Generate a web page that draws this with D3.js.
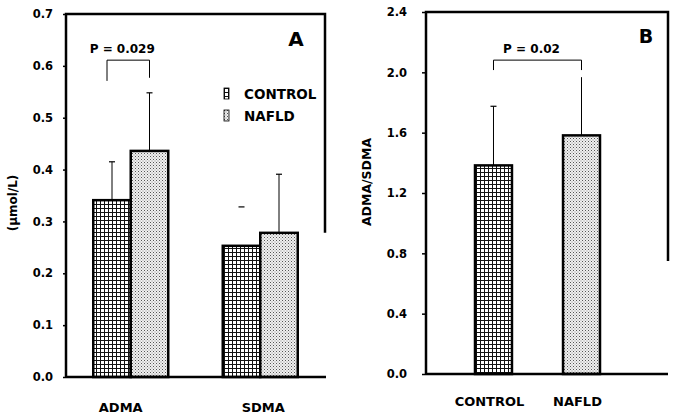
<!DOCTYPE html>
<html>
<head>
<meta charset="utf-8">
<script src="https://cdn.jsdelivr.net/npm/d3@7"></script>
<style>
  body { margin: 0; background: #fff; }
  text { font-family: "DejaVu Sans", sans-serif; font-weight: bold; fill: #000; }
</style>
</head>
<body>
<script>
'use strict';

// panel A: ADMA / SDMA concentrations (umol/L)
var groupsA = ['ADMA', 'SDMA'];
var seriesNames = ['CONTROL', 'NAFLD'];
var controlA = [0.341, 0.253];
var controlSdA = [0.074, 0.075];
var nafldA = [0.436, 0.278];
var nafldSdA = [0.112, 0.113];
var ticksA = [0, 0.1, 0.2, 0.3, 0.4, 0.5, 0.6, 0.7];

// panel B: ADMA/SDMA ratio
var groupsB = ['CONTROL', 'NAFLD'];
var ratioB = [1.383, 1.582];
var ratioSdB = [0.392, 0.386];
var ticksB = [0, 0.4, 0.8, 1.2, 1.6, 2.0, 2.4];

var width = 675, height = 418;

var svg = d3.select('body').append('svg')
    .attr('width', width)
    .attr('height', height);

// fill patterns
var defs = svg.append('defs');
var grid = defs.append('pattern')
    .attr('id', 'grid')
    .attr('patternUnits', 'userSpaceOnUse')
    .attr('width', 4).attr('height', 4);
grid.append('rect').attr('width', 4).attr('height', 4).attr('fill', '#fff');
grid.append('rect').attr('x', 0).attr('y', 0).attr('width', 1).attr('height', 4).attr('fill', '#111');
grid.append('rect').attr('x', 0).attr('y', 0).attr('width', 4).attr('height', 1).attr('fill', '#111');

var dots = defs.append('pattern')
    .attr('id', 'dots')
    .attr('patternUnits', 'userSpaceOnUse')
    .attr('width', 3).attr('height', 3);
dots.append('rect').attr('width', 3).attr('height', 3).attr('fill', '#f0f0f0');
dots.append('rect').attr('x', 0).attr('y', 0).attr('width', 1).attr('height', 1).attr('fill', '#555');
dots.append('rect').attr('x', 1.5).attr('y', 1.5).attr('width', 1).attr('height', 1).attr('fill', '#888');

var fills = { CONTROL: 'url(#grid)', NAFLD: 'url(#dots)' };

function errorBar(g, cx, yTop, yBase, stem, cap) {
    if (stem) {
        g.append('line')
            .attr('x1', cx).attr('x2', cx)
            .attr('y1', yTop).attr('y2', yBase)
            .attr('stroke', '#000').attr('stroke-width', 1);
    }
    if (cap) {
        g.append('line')
            .attr('x1', cx - 3).attr('x2', cx + 3)
            .attr('y1', yTop).attr('y2', yTop)
            .attr('stroke', '#000').attr('stroke-width', 1.2);
    }
}

function bracket(g, x1, x2, yBar, yLeg1, yLeg2, label) {
    g.append('path')
        .attr('d', 'M' + x1 + ',' + yLeg1 + 'V' + yBar + 'H' + x2 + 'V' + yLeg2)
        .attr('fill', 'none')
        .attr('stroke', '#000')
        .attr('stroke-width', 1);
    g.append('text')
        .attr('x', (x1 + x2) / 2 - 6)
        .attr('y', yBar - 7)
        .attr('text-anchor', 'middle')
        .style('font-size', '12px')
        .text(label);
}

// ---------------- panel A ----------------
var yA = d3.scaleLinear().domain([0, 0.7]).range([377, 14]);
var x0A = d3.scaleBand().domain(groupsA).range([66, 325]);
var x1A = d3.scaleBand().domain(seriesNames).range([0, 75]);

var gA = svg.append('g');

gA.append('g')
    .attr('transform', 'translate(66,0)')
    .call(d3.axisLeft(yA).tickValues(ticksA).tickFormat(d3.format('.1f')).tickSize(3).tickPadding(10))
    .call(function(g) { g.select('.domain').remove(); })
    .call(function(g) {
        g.selectAll('.tick line').attr('stroke', '#000').attr('stroke-width', 1.5);
        g.selectAll('.tick text').style('font-size', '11.5px').style('font-family', '"DejaVu Sans", sans-serif').style('font-weight', 'bold');
    });

var dataA = [];
groupsA.forEach(function(grp, i) {
    dataA.push({ group: grp, series: 'CONTROL', value: controlA[i], sd: controlSdA[i], stem: i === 0 });
    dataA.push({ group: grp, series: 'NAFLD', value: nafldA[i], sd: nafldSdA[i], stem: true });
});

gA.selectAll('rect.bar')
    .data(dataA)
    .enter()
    .append('rect')
    .attr('class', 'bar')
    .attr('x', function(d) { return x0A(d.group) + x0A.bandwidth() / 2 - 37.5 + x1A(d.series); })
    .attr('y', function(d) { return yA(d.value); })
    .attr('width', x1A.bandwidth())
    .attr('height', function(d) { return yA(0) - yA(d.value); })
    .attr('fill', function(d) { return fills[d.series]; })
    .attr('stroke', '#000')
    .attr('stroke-width', 2.5);

dataA.forEach(function(d) {
    var cx = x0A(d.group) + x0A.bandwidth() / 2 - 37.5 + x1A(d.series) + x1A.bandwidth() / 2;
    errorBar(gA, cx, yA(d.value + d.sd), yA(d.value), d.stem, true);
});

// frame (right side is broken off in the original scan)
gA.append('path')
    .attr('d', 'M66,' + yA(0) + 'V' + yA(0.7) + 'H325V' + yA(0.278))
    .attr('fill', 'none').attr('stroke', '#000').attr('stroke-width', 2.5);
gA.append('line')
    .attr('x1', 66).attr('x2', 326).attr('y1', yA(0)).attr('y2', yA(0))
    .attr('stroke', '#000').attr('stroke-width', 2.5);

var cAd = x0A('ADMA') + x0A.bandwidth() / 2 - 37.5;
bracket(gA, cAd + x1A('CONTROL') + x1A.bandwidth() / 2 - 5, cAd + x1A('NAFLD') + x1A.bandwidth() / 2,
    yA(0.611), yA(0.571), yA(0.577), 'P = 0.029');

gA.selectAll('text.xlab')
    .data(groupsA)
    .enter()
    .append('text')
    .attr('class', 'xlab')
    .attr('x', function(d, i) { return x0A(d) + x0A.bandwidth() / 2 + (i === 0 ? -10 : 3); })
    .attr('y', 412)
    .attr('text-anchor', 'middle')
    .style('font-size', '13px')
    .text(function(d) { return d; });

gA.append('text')
    .attr('transform', 'translate(17,203) rotate(-90)')
    .attr('text-anchor', 'middle')
    .style('font-size', '12px')
    .text('(\u03bcmol/L)');

gA.append('text')
    .attr('x', 296).attr('y', 46)
    .attr('text-anchor', 'middle')
    .style('font-size', '20px')
    .text('A');

// legend
var legend = gA.selectAll('g.legend')
    .data(seriesNames)
    .enter()
    .append('g')
    .attr('class', 'legend')
    .attr('transform', function(d, i) { return 'translate(224,' + (88 + i * 22) + ')'; });
legend.append('rect')
    .attr('width', 5).attr('height', 11)
    .attr('fill', function(d) { return fills[d]; })
    .attr('stroke', '#000').attr('stroke-width', 0.8);
legend.append('text')
    .attr('x', 20).attr('y', 11)
    .style('font-size', '13.5px')
    .text(function(d) { return d; });

// ---------------- panel B ----------------
var yB = d3.scaleLinear().domain([0, 2.4]).range([374, 12]);
var xB = d3.scaleBand().domain(groupsB).range([475, 600]).paddingInner(0.58).paddingOuter(0);

var gB = svg.append('g');

gB.append('g')
    .attr('transform', 'translate(426,0)')
    .call(d3.axisLeft(yB).tickValues(ticksB).tickFormat(d3.format('.1f')).tickSize(4).tickPadding(15))
    .call(function(g) { g.select('.domain').remove(); })
    .call(function(g) {
        g.selectAll('.tick line').attr('stroke', '#000').attr('stroke-width', 1.5);
        g.selectAll('.tick text').style('font-size', '11.5px').style('font-family', '"DejaVu Sans", sans-serif').style('font-weight', 'bold');
    });

gB.selectAll('rect.bar')
    .data(groupsB)
    .enter()
    .append('rect')
    .attr('class', 'bar')
    .attr('x', function(d) { return xB(d); })
    .attr('y', function(d, i) { return yB(ratioB[i]); })
    .attr('width', xB.bandwidth())
    .attr('height', function(d, i) { return yB(0) - yB(ratioB[i]); })
    .attr('fill', function(d) { return fills[d]; })
    .attr('stroke', '#000')
    .attr('stroke-width', 2.5);

groupsB.forEach(function(d, i) {
    errorBar(gB, xB(d) + xB.bandwidth() / 2, yB(ratioB[i] + ratioSdB[i]), yB(ratioB[i]), true, i === 0);
});

gB.append('path')
    .attr('d', 'M426,' + yB(0) + 'V' + yB(2.4) + 'H668V' + yB(0.75))
    .attr('fill', 'none').attr('stroke', '#000').attr('stroke-width', 2.5);
gB.append('line')
    .attr('x1', 426).attr('x2', 668).attr('y1', yB(0)).attr('y2', yB(0))
    .attr('stroke', '#000').attr('stroke-width', 2.5);

bracket(gB, xB('CONTROL') + xB.bandwidth() / 2, xB('NAFLD') + xB.bandwidth() / 2,
    yB(2.081), yB(2.015), yB(2.015), 'P = 0.02');

gB.selectAll('text.xlab')
    .data(groupsB)
    .enter()
    .append('text')
    .attr('class', 'xlab')
    .attr('x', function(d) { return xB(d) + xB.bandwidth() / 2 - 4; })
    .attr('y', 406)
    .attr('text-anchor', 'middle')
    .style('font-size', '13px')
    .text(function(d) { return d; });

gB.append('text')
    .attr('transform', 'translate(371,182) rotate(-90)')
    .attr('text-anchor', 'middle')
    .style('font-size', '12.5px')
    .text('ADMA/SDMA');

gB.append('text')
    .attr('x', 646).attr('y', 43)
    .attr('text-anchor', 'middle')
    .style('font-size', '19px')
    .text('B');
</script>
</body>
</html>
